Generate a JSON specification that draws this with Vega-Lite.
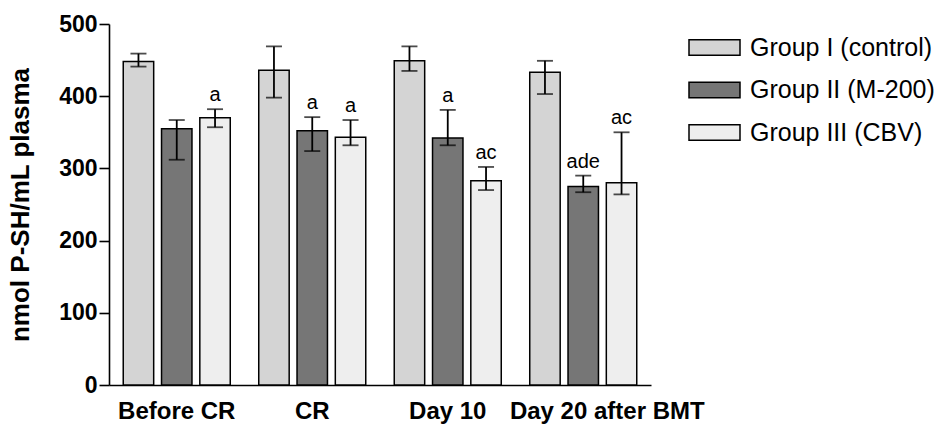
{
  "$schema": "https://vega.github.io/schema/vega-lite/v6.json",
  "width": 542,
  "height": 361,
  "autosize": {"type": "none"},
  "padding": {"left": 109, "top": 24, "right": 288, "bottom": 40},
  "config": {
    "view": {"stroke": null},
    "font": "Liberation Sans",
    "axis": {"domainColor": "black", "domainWidth": 1.6, "tickColor": "black", "tickWidth": 1.6, "labelColor": "black", "titleColor": "black", "grid": false}
  },
  "data": {
    "values": [
      {"time": "Before CR", "group": "Group I (control)", "mean": 448, "lower": 441, "upper": 459, "label": ""},
      {"time": "Before CR", "group": "Group II (M-200)", "mean": 355, "lower": 312, "upper": 367, "label": ""},
      {"time": "Before CR", "group": "Group III (CBV)", "mean": 370, "lower": 357, "upper": 382, "label": "a"},
      {"time": "CR", "group": "Group I (control)", "mean": 436, "lower": 398, "upper": 469, "label": ""},
      {"time": "CR", "group": "Group II (M-200)", "mean": 352, "lower": 324, "upper": 371, "label": "a"},
      {"time": "CR", "group": "Group III (CBV)", "mean": 343, "lower": 332, "upper": 367, "label": "a"},
      {"time": "Day 10", "group": "Group I (control)", "mean": 449, "lower": 435, "upper": 469, "label": ""},
      {"time": "Day 10", "group": "Group II (M-200)", "mean": 342, "lower": 332, "upper": 381, "label": "a"},
      {"time": "Day 10", "group": "Group III (CBV)", "mean": 283, "lower": 270, "upper": 302, "label": "ac"},
      {"time": "Day 20 after BMT", "group": "Group I (control)", "mean": 433, "lower": 403, "upper": 449, "label": ""},
      {"time": "Day 20 after BMT", "group": "Group II (M-200)", "mean": 275, "lower": 267, "upper": 290, "label": "ade"},
      {"time": "Day 20 after BMT", "group": "Group III (CBV)", "mean": 280, "lower": 264, "upper": 350, "label": "ac"}
    ]
  },
  "encoding": {
    "x": {
      "field": "time", "type": "nominal",
      "sort": ["Before CR", "CR", "Day 10", "Day 20 after BMT"],
      "scale": {"paddingInner": 0, "paddingOuter": 0},
      "axis": {"title": null, "labelAngle": 0, "ticks": false, "tickSize": 0, "labelFontSize": 24, "labelFontWeight": "bold", "labelPadding": 33, "labelBaseline": "alphabetic", "labelLimit": 400, "labelOverlap": false,
        "labelOffset": {"condition": {"test": "datum.value === 'Day 20 after BMT'", "value": 24}, "value": 0}}
    },
    "xOffset": {
      "field": "group", "type": "nominal",
      "sort": ["Group I (control)", "Group II (M-200)", "Group III (CBV)"],
      "scale": {"paddingInner": 0.205, "paddingOuter": 0.372}
    }
  },
  "layer": [
    {
      "mark": {"type": "bar", "stroke": "black", "strokeWidth": 1.5},
      "encoding": {
        "y": {
          "field": "mean", "type": "quantitative", "title": "nmol P-SH/mL plasma",
          "scale": {"domain": [0, 500], "nice": false},
          "axis": {"values": [0, 100, 200, 300, 400, 500], "tickSize": 10, "labelFontSize": 23, "labelFontWeight": "bold", "labelPadding": 2, "titleFontSize": 26, "titleFontWeight": "bold", "titleX": -76, "titleY": 180.5, "titleAngle": -90, "titleBaseline": "bottom", "titleAlign": "center", "titleLimit": 500}
        },
        "fill": {
          "field": "group", "type": "nominal",
          "sort": ["Group I (control)", "Group II (M-200)", "Group III (CBV)"],
          "scale": {"domain": ["Group I (control)", "Group II (M-200)", "Group III (CBV)"], "range": ["#d4d4d4", "#767676", "#eeeeee"]},
          "legend": {"orient": "none", "legendX": 579, "legendY": -3, "title": null, "symbolType": "M-1,-0.3H1V0.3H-1Z", "symbolSize": 2601, "symbolStrokeColor": "black", "symbolStrokeWidth": 1.5, "labelFontSize": 25, "labelColor": "black", "labelOffset": 9, "labelLimit": 400, "rowPadding": 2.5, "padding": 0}
        }
      }
    },
    {
      "mark": {"type": "rule", "color": "black", "strokeWidth": 1.8},
      "encoding": {
        "y": {"field": "lower", "type": "quantitative", "title": "nmol P-SH/mL plasma"},
        "y2": {"field": "upper"}
      }
    },
    {
      "mark": {"type": "tick", "color": "black", "thickness": 1.8, "size": 16, "orient": "horizontal"},
      "encoding": {
        "y": {"field": "upper", "type": "quantitative", "title": "nmol P-SH/mL plasma"}
      }
    },
    {
      "mark": {"type": "tick", "color": "black", "thickness": 1.8, "size": 16, "orient": "horizontal"},
      "encoding": {
        "y": {"field": "lower", "type": "quantitative", "title": "nmol P-SH/mL plasma"}
      }
    },
    {
      "mark": {"type": "text", "baseline": "alphabetic", "dy": -8, "fontSize": 20, "color": "black"},
      "encoding": {
        "y": {"field": "upper", "type": "quantitative", "title": "nmol P-SH/mL plasma"},
        "text": {"field": "label"}
      }
    }
  ]
}
